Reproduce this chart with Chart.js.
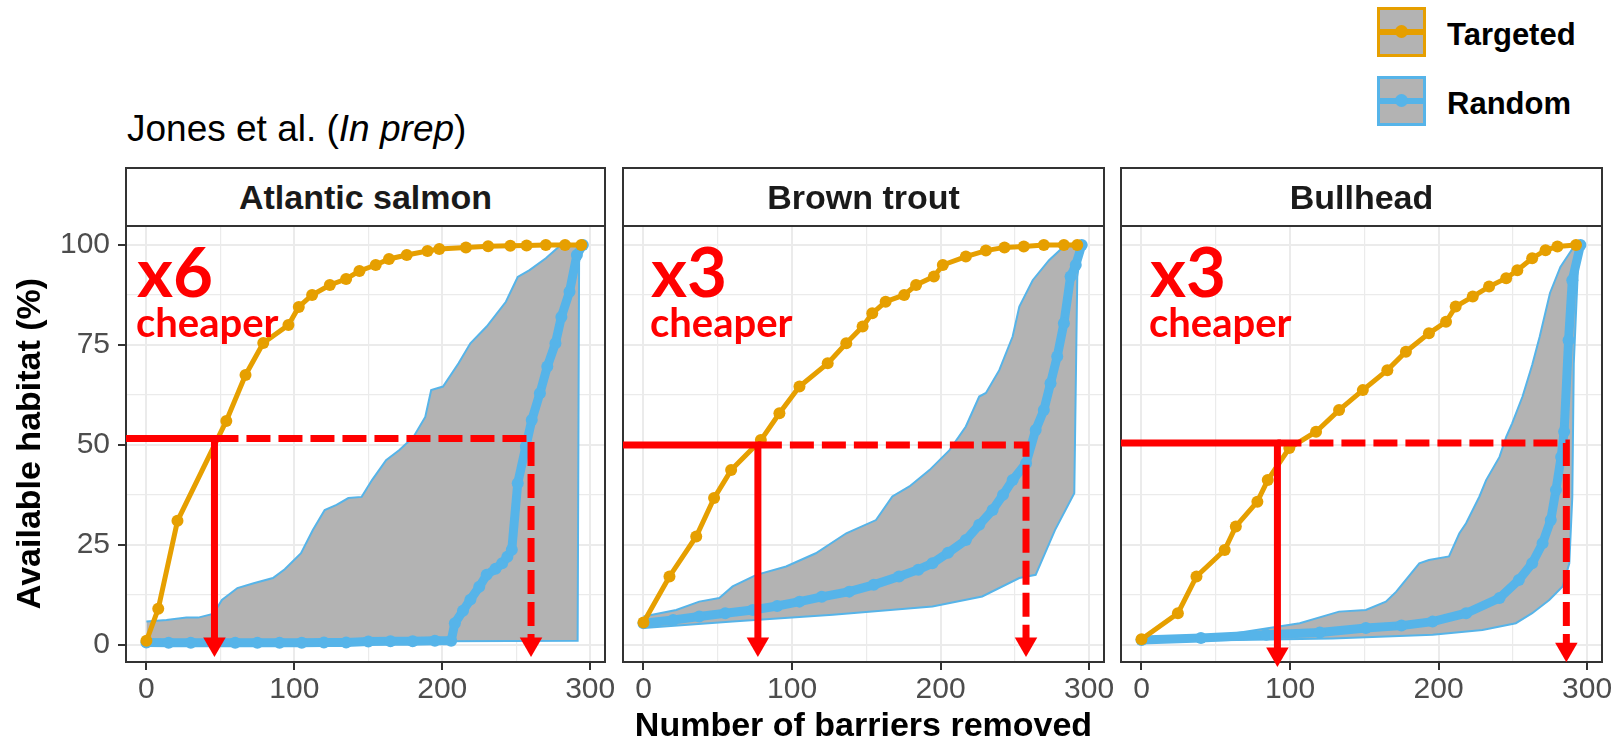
<!DOCTYPE html>
<html>
<head>
<meta charset="utf-8">
<script src="https://cdn.jsdelivr.net/npm/chart.js@4.4.1/dist/chart.umd.min.js"></script>
<style>
  body { margin: 0; background: #fff; width: 1618px; height: 747px; position: relative; overflow: hidden;
         font-family: "Liberation Sans", Arial, sans-serif; }
  canvas.panel { position: absolute; left: 0; top: 0; }
  .strip { position: absolute; top: 167px; height: 60px; box-sizing: border-box; border: 2px solid #333;
           background: #fff; text-align: center; line-height: 56px; font-weight: bold; font-size: 34px; color: #1a1a1a; }
  .note { position: absolute; left: 127px; top: 110px; font-size: 37px; line-height: 37px; color: #000; }
  .big { position: absolute; top: 236px; color: #ff0000; font-family: Lato, sans-serif; font-weight: bold;
         font-size: 69px; line-height: 69px; z-index: 5; }
  .small { position: absolute; top: 302px; color: #ff0000; font-family: Lato, sans-serif; font-weight: bold;
           font-size: 40px; line-height: 40px; z-index: 5; }
  .key { position: absolute; left: 1377px; width: 49px; height: 50px; box-sizing: border-box;
         border: 3px solid; background: #b3b3b3; }
  .key i { position: absolute; left: 0; right: 0; top: 19px; height: 6px; }
  .key b { position: absolute; left: 15px; top: 15px; width: 13px; height: 13px; border-radius: 50%; }
  .lab { position: absolute; left: 1447px; font-weight: bold; font-size: 31px; line-height: 31px; color: #000; }
</style>
</head>
<body>
<div class="note">Jones et al. (<i>In prep</i>)</div>

<div class="key" style="top:7px;border-color:#E69F00"><i style="background:#E69F00"></i><b style="background:#E69F00"></b></div>
<div class="lab" style="top:19px">Targeted</div>
<div class="key" style="top:76px;border-color:#56B4E9"><i style="background:#56B4E9"></i><b style="background:#56B4E9"></b></div>
<div class="lab" style="top:88px">Random</div>

<canvas class="panel" id="p0" width="1618" height="747"></canvas>
<canvas class="panel" id="p1" width="1618" height="747"></canvas>
<canvas class="panel" id="p2" width="1618" height="747"></canvas>

<script>
// facets
const species = ['Atlantic salmon', 'Brown trout', 'Bullhead'];
const savings = ['x6', 'x3', 'x3'];

// axis breaks (major + minor grid)
const xTicks = [0, 50, 100, 150, 200, 250, 300];
const yTicks = [0, 12.5, 25, 37.5, 50, 62.5, 75, 87.5, 100];

// Atlantic salmon
const salmonTargetX = [0, 8, 21, 54, 67, 79, 96, 103, 112, 124, 135, 144, 155, 164, 176, 190, 198, 216, 231, 246, 257, 270, 283, 294];
const salmonTargetY = [1, 9, 31, 56, 67.5, 75.5, 80, 84.5, 87.5, 90, 91.5, 93.5, 95, 96.5, 97.5, 98.5, 99, 99.4, 99.7, 99.8, 99.9, 100, 100, 100];
const salmonMeanX = [0, 15, 30, 45, 60, 75, 90, 105, 120, 135, 150, 165, 180, 195, 206, 208.5, 214, 219, 225, 230, 236, 240.5, 244, 247, 251, 256.5, 260.5, 266, 271, 276.5, 280.5, 286, 291, 295];
const salmonMeanY = [0.6, 0.5, 0.5, 0.5, 0.5, 0.5, 0.5, 0.5, 0.6, 0.6, 0.8, 0.9, 0.9, 1, 1, 5.4, 8.5, 11.3, 14.5, 17.5, 19, 20.4, 22, 23.8, 40.4, 49.6, 56.2, 62.9, 69.6, 75.4, 82, 88.3, 97.5, 100];
const salmonUpperX = [0, 13.5, 27, 35, 45.5, 51, 61.5, 72.5, 85.5, 93.5, 104.5, 112.5, 120.5, 128.5, 136.5, 145.5, 152.5, 162, 171, 180.5, 188.5, 192.5, 200.5, 211, 219, 230, 243, 251, 259, 270, 279, 294];
const salmonUpperY = [5.8, 6.2, 6.8, 6.8, 7.8, 11.2, 14.2, 15.4, 16.7, 18.9, 22.9, 28.7, 33.7, 35, 36.7, 37, 41.2, 46.2, 48.7, 52, 57, 63.7, 64.6, 70.4, 75.4, 79.6, 85.8, 92, 93.7, 96.7, 99.6, 100];
const salmonLowerX = [0, 100, 200, 291.5, 292.5, 295];
const salmonLowerY = [0.8, 0.8, 0.9, 1, 97, 100];

// Brown trout
const troutTargetX = [0, 17.5, 35.5, 47.5, 59, 79, 91.5, 105, 124, 136.5, 147.5, 154, 163, 175.5, 183.5, 195.5, 201.5, 217, 230.5, 243, 256, 269.5, 283, 292];
const troutTargetY = [5.6, 17.1, 27.1, 36.7, 43.7, 51.2, 57.9, 64.6, 70.4, 75.4, 79.6, 82.9, 85.8, 87.5, 90, 92.1, 95, 97.1, 98.6, 99.4, 99.6, 100, 100, 100];
const troutMeanX = [0, 20, 37.5, 55, 73.5, 90, 105, 120, 138.5, 155, 172, 185, 194.5, 205, 217, 226, 235, 242, 248.5, 257.5, 264, 269.5, 274, 278.5, 283, 287.5, 291, 295];
const troutMeanY = [5.4, 6.2, 7.1, 7.9, 8.7, 9.7, 10.8, 12, 13.3, 15, 17.1, 18.8, 20.4, 23, 26.2, 30, 33.7, 37.5, 41.2, 45.4, 53.7, 58.7, 65.4, 72.1, 80.4, 92.1, 95, 100];
const troutUpperX = [0, 22, 37.5, 51, 60, 76, 96, 116, 136.5, 156.5, 167.5, 179, 192.5, 206, 217, 226, 230.5, 239.5, 248.5, 253, 262, 273, 284, 295];
const troutUpperY = [7.1, 8.7, 10.8, 11.7, 14.6, 17.5, 19.6, 22.9, 27.9, 31.2, 37.1, 39.6, 43.7, 48.7, 54.6, 62.1, 63, 68.7, 77.1, 84.6, 91.2, 96.2, 100, 100];
const troutLowerX = [0, 60, 127.5, 194.5, 228, 253, 264, 277, 290, 292, 295];
const troutLowerY = [4.2, 5.8, 7.5, 9.6, 12.1, 16.7, 17.5, 28.7, 37.9, 92, 100];

// Bullhead
const bullTargetX = [0, 24.5, 37, 56, 63.5, 78, 85, 99.5, 117.5, 133, 149, 165.5, 178, 193.5, 205, 211.5, 223, 234, 245.5, 253, 263, 272, 280, 292.5];
const bullTargetY = [1.4, 7.9, 17.1, 23.7, 29.6, 35.8, 41.2, 49.2, 53.3, 58.7, 63.7, 68.7, 73.3, 77.9, 80.8, 84.6, 87.1, 89.6, 91.7, 93.7, 96.7, 98.7, 99.6, 100];
const bullMeanX = [0, 40, 84, 120, 151, 175, 196, 218.5, 241, 254, 263, 270, 275.5, 279, 282.5, 284.5, 287.5, 290, 295.5];
const bullMeanY = [1.2, 1.7, 2.5, 3.1, 4.2, 4.8, 5.8, 7.9, 11.7, 16.2, 20.4, 25.4, 31.2, 38.7, 47, 53.3, 76.2, 91.2, 100];
const bullUpperX = [0, 60, 106.5, 133, 151, 164.5, 171.5, 187, 193.5, 207, 214, 218.5, 227.5, 232, 241, 245.5, 249.5, 256.5, 263, 268, 275, 282, 290, 295.5];
const bullUpperY = [1.7, 2.7, 5.4, 8.3, 8.7, 10.8, 13.3, 20.4, 21.2, 22.1, 27.9, 30.4, 37.1, 41.2, 47, 52, 55.4, 62.1, 70, 77, 88, 94.5, 99, 100];
const bullLowerX = [0, 128.5, 196, 229.5, 252, 263, 274.5, 283.5, 288, 290, 291, 294.5];
const bullLowerY = [0.8, 1.6, 2.5, 3.7, 5.4, 7.9, 11.2, 14.6, 20.4, 37, 70.4, 100];

// red call-outs: 50% habitat level and where each strategy reaches it
const halfLevel = [51.6, 50, 50.5];
const targetCross = [46, 77, 91.5];
const randomCross = [260, 257.5, 286];
const solidArrowY = [0.2, 0.2, -2.3];
const dashArrowY = [0.2, 0.2, -1.1];

const ORANGE = '#E69F00', BLUE = '#56B4E9', GREY = '#B3B3B3', RED = '#FF0000';
const X_MIN = -13.8, X_MAX = 310, Y_MIN = -4.3, Y_MAX = 105;

// panel placement on the page
const panelLeft = [126, 623, 1121];
const panelRight = [605, 1104, 1602];
const calloutLeft = [137, 651, 1150];

const series = [
  [salmonTargetX, salmonTargetY, salmonMeanX, salmonMeanY, salmonUpperX, salmonUpperY, salmonLowerX, salmonLowerY],
  [troutTargetX, troutTargetY, troutMeanX, troutMeanY, troutUpperX, troutUpperY, troutLowerX, troutLowerY],
  [bullTargetX, bullTargetY, bullMeanX, bullMeanY, bullUpperX, bullUpperY, bullLowerX, bullLowerY]
];

const pts = (xs, ys) => xs.map((x, i) => ({ x: x, y: ys[i] }));

Chart.defaults.font.family = '"Liberation Sans", Arial, sans-serif';

// panel border drawn under the data, like ggplot's theme_bw frame
const frame = {
  id: 'frame',
  beforeDatasetsDraw(chart) {
    const { ctx, chartArea: a } = chart;
    ctx.save();
    ctx.strokeStyle = '#333333';
    ctx.lineWidth = 2;
    ctx.strokeRect(a.left, a.top, a.right - a.left, a.bottom - a.top);
    ctx.restore();
  }
};

function makePanel(i) {
  const [tx, ty, mx, my, ux, uy, lx, ly] = series[i];
  const first = i === 0;

  // strip and red text as html
  const strip = document.createElement('div');
  strip.className = 'strip';
  strip.style.left = (panelLeft[i] - 1) + 'px';
  strip.style.width = (panelRight[i] - panelLeft[i] + 2) + 'px';
  strip.textContent = species[i];
  document.body.appendChild(strip);

  const big = document.createElement('div');
  big.className = 'big';
  big.style.left = calloutLeft[i] + 'px';
  big.textContent = savings[i];
  document.body.appendChild(big);

  const small = document.createElement('div');
  small.className = 'small';
  small.style.left = (calloutLeft[i] - 1) + 'px';
  small.textContent = 'cheaper';
  document.body.appendChild(small);

  new Chart(document.getElementById('p' + i), {
    type: 'line',
    data: {
      datasets: [
        { // solid: targeted strategy
          data: [{ x: X_MIN, y: halfLevel[i] }, { x: targetCross[i], y: halfLevel[i] }, { x: targetCross[i], y: solidArrowY[i] }],
          borderColor: RED, borderWidth: 7, pointRadius: 0, clip: false,
          borderJoinStyle: 'miter', borderCapStyle: 'butt'
        },
        { // dashed: random strategy
          data: [{ x: targetCross[i], y: halfLevel[i] }, { x: randomCross[i], y: halfLevel[i] }, { x: randomCross[i], y: dashArrowY[i] }],
          borderColor: RED, borderWidth: 7, borderDash: [24, 8], pointRadius: 0, clip: false,
          borderJoinStyle: 'miter'
        },
        { // arrow heads
          data: [{ x: targetCross[i], y: solidArrowY[i] }, { x: randomCross[i], y: dashArrowY[i] }],
          showLine: false, pointStyle: 'triangle', pointRotation: 180, pointRadius: 13,
          pointBackgroundColor: RED, pointBorderWidth: 0, clip: false
        },
        {
          label: 'Targeted',
          data: pts(tx, ty),
          borderColor: ORANGE, borderWidth: 5,
          pointRadius: 6, pointBackgroundColor: ORANGE, pointBorderWidth: 0
        },
        {
          label: 'Random',
          data: pts(mx, my),
          borderColor: BLUE, borderWidth: 9,
          pointRadius: 6, pointBackgroundColor: BLUE, pointBorderWidth: 0
        },
        {
          data: pts(ux, uy),
          borderColor: BLUE, borderWidth: 2, pointRadius: 0
        },
        {
          data: pts(lx, ly),
          borderColor: BLUE, borderWidth: 2, pointRadius: 0,
          fill: '-1', backgroundColor: GREY
        }
      ]
    },
    options: {
      responsive: false,
      devicePixelRatio: 1,
      animation: false,
      events: [],
      layout: {
        padding: { left: first ? 0 : panelLeft[i], right: 1618 - panelRight[i], top: 225, bottom: 0 }
      },
      plugins: {
        legend: { display: false },
        tooltip: { enabled: false }
      },
      scales: {
        x: {
          type: 'linear',
          min: X_MIN,
          max: X_MAX,
          afterBuildTicks: s => { s.ticks = xTicks.map(v => ({ value: v })); },
          afterFit: s => { s.height = 85; },
          border: { display: false },
          grid: {
            color: '#ebebeb',
            lineWidth: c => (c.tick && c.tick.value % 100 === 0 ? 2 : 1.2),
            tickLength: 8,
            tickWidth: 2,
            tickColor: c => (c.tick && c.tick.value % 100 === 0 ? '#333333' : 'rgba(0,0,0,0)')
          },
          ticks: {
            autoSkip: false,
            maxRotation: 0,
            padding: 2,
            color: '#4d4d4d',
            font: { size: 30 },
            callback: v => (v % 100 === 0 ? v : '')
          },
          title: {
            display: i === 1,
            text: 'Number of barriers removed',
            color: '#000',
            font: { size: 34, weight: 'bold' },
            padding: 0
          }
        },
        y: {
          type: 'linear',
          min: Y_MIN,
          max: Y_MAX,
          afterBuildTicks: s => { s.ticks = yTicks.map(v => ({ value: v })); },
          afterFit: s => { s.width = first ? 126 : 0; },
          border: { display: false },
          grid: {
            color: '#ebebeb',
            lineWidth: c => (c.tick && c.tick.value % 25 === 0 ? 2 : 1.2),
            drawTicks: first,
            tickLength: 8,
            tickWidth: 2,
            tickColor: c => (c.tick && c.tick.value % 25 === 0 ? '#333333' : 'rgba(0,0,0,0)')
          },
          ticks: {
            display: first,
            padding: 8,
            color: '#4d4d4d',
            font: { size: 30 },
            callback: v => (v % 25 === 0 ? v : '')
          },
          title: {
            display: first,
            text: 'Available habitat (%)',
            color: '#000',
            font: { size: 34, weight: 'bold' },
            padding: { top: 10, bottom: 0 }
          }
        }
      }
    },
    plugins: [frame]
  });
}

[0, 1, 2].forEach(makePanel);
</script>
</body>
</html>
